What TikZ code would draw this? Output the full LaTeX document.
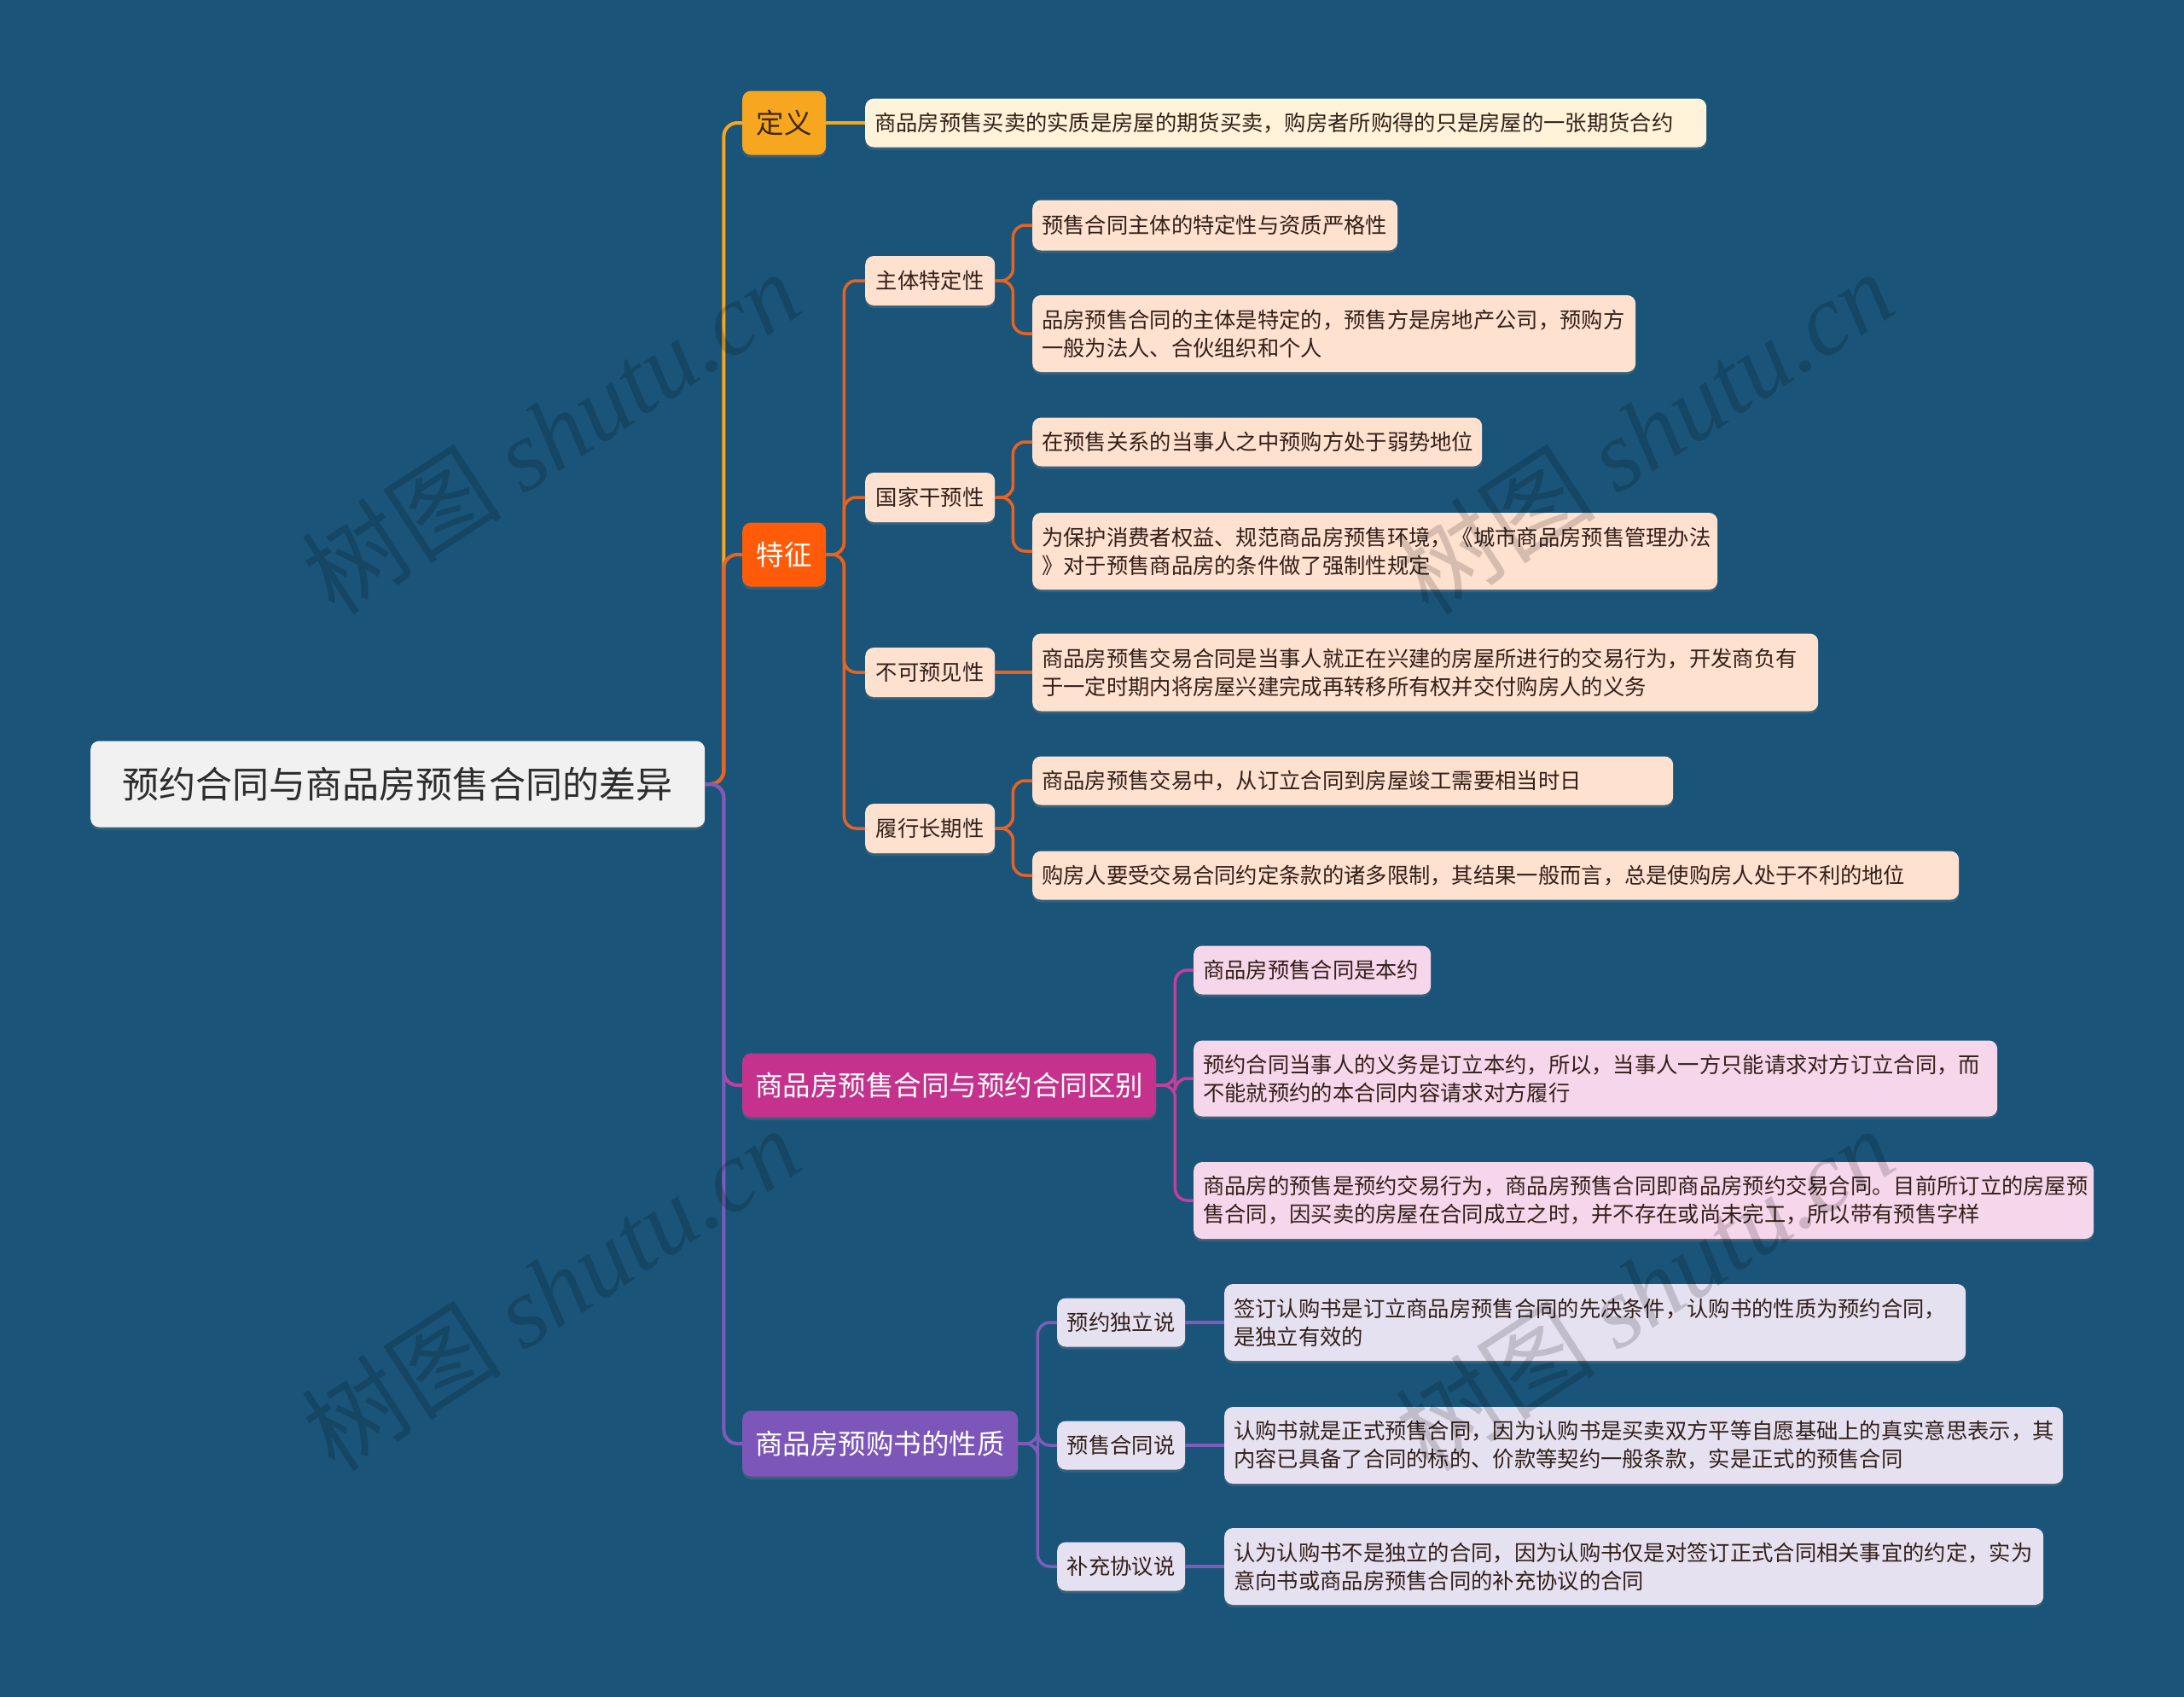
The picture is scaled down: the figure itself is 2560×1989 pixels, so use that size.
\documentclass[tikz,border=0pt]{standalone}
\usepackage{fontspec}
\setmainfont{Noto Sans CJK SC}
\newfontfamily\wmlatin{Liberation Serif}
\usetikzlibrary{shadows}
\definecolor{bg}{RGB}{26,85,121}
\definecolor{rootfill}{RGB}{241,241,241}
\definecolor{roottext}{RGB}{45,45,45}
\definecolor{cA}{RGB}{247,166,32}
\definecolor{cAl}{RGB}{255,243,217}
\definecolor{cAt}{RGB}{60,40,5}
\definecolor{cB}{RGB}{255,91,8}
\definecolor{cBline}{RGB}{234,98,32}
\definecolor{cBl}{RGB}{255,225,208}
\definecolor{cC}{RGB}{196,50,142}
\definecolor{cCline}{RGB}{196,62,158}
\definecolor{cCl}{RGB}{246,214,234}
\definecolor{cD}{RGB}{124,86,184}
\definecolor{cDline}{RGB}{126,92,186}
\definecolor{cDl}{RGB}{230,225,241}
\definecolor{txt}{RGB}{50,32,25}
\tikzset{
  basebox/.style={rounded corners=10pt, anchor=west, inner ysep=0pt,
    drop shadow={opacity=0.3, shadow xshift=0pt, shadow yshift=-3pt}},
  rootbox/.style={basebox, fill=rootfill, text=roottext, inner xsep=0pt, align=center,
    font=\fontsize{43pt}{50pt}\selectfont},
  mainbox/.style={basebox, inner xsep=0pt, align=center, text=white,
    font=\fontsize{32.5pt}{38pt}\selectfont},
  leafbox/.style={basebox, inner xsep=11pt, align=left, text=txt,
    font=\fontsize{25.3pt}{33pt}\selectfont},
  subbox/.style={basebox, inner xsep=0pt, align=center, text=txt,
    font=\fontsize{25.3pt}{33pt}\selectfont},
  conn/.style={line width=4pt, rounded corners=16pt},
  sconn/.style={line width=3.5pt, rounded corners=14pt},
  wm/.style={rotate=33, inner sep=0pt, text=black, text opacity=0.16, font=\fontsize{118pt}{120pt}\selectfont}
}
\begin{document}
\begin{tikzpicture}[x=1pt,y=-1pt]
\useasboundingbox (0,0) rectangle (2560,1989);
\fill[bg] (0,0) rectangle (2560,1989);

% root
\node[rootbox, minimum height=101pt, text width=720pt] (root) at (106,919) {预约合同与商品房预售合同的差异};

% main branches
\node[mainbox, fill=cA, text=cAt, minimum height=75pt, text width=98pt] (b1) at (870,144) {定义};
\node[mainbox, fill=cB, minimum height=75pt, text width=98pt] (b2) at (870,650) {特征};
\node[mainbox, fill=cC, minimum height=75pt, text width=485pt] (b3) at (870,1272) {商品房预售合同与预约合同区别};
\node[mainbox, fill=cD, minimum height=77pt, text width=323pt] (b4) at (870,1692) {商品房预购书的性质};

% 定义 leaf
\node[leafbox, fill=cAl, minimum height=57pt, text width=964pt] (l0) at (1014,144) {商品房预售买卖的实质是房屋的期货买卖，购房者所购得的只是房屋的一张期货合约};

% 特征 subs
\node[subbox, fill=cBl, minimum height=58pt, text width=152pt] (s1) at (1014,329) {主体特定性};
\node[subbox, fill=cBl, minimum height=58pt, text width=152pt] (s2) at (1014,583) {国家干预性};
\node[subbox, fill=cBl, minimum height=58pt, text width=152pt] (s3) at (1014,788) {不可预见性};
\node[subbox, fill=cBl, minimum height=58pt, text width=152pt] (s4) at (1014,971) {履行长期性};

% 特征 leaves
\node[leafbox, fill=cBl, minimum height=59pt, text width=406pt] (l11) at (1210,264) {预售合同主体的特定性与资质严格性};
\node[leafbox, fill=cBl, minimum height=90pt, text width=685pt] (l12) at (1210,391) {品房预售合同的主体是特定的，预售方是房地产公司，预购方\\一般为法人、合伙组织和个人};
\node[leafbox, fill=cBl, minimum height=57pt, text width=505pt] (l21) at (1210,518) {在预售关系的当事人之中预购方处于弱势地位};
\node[leafbox, fill=cBl, minimum height=90pt, text width=781pt] (l22) at (1210,646) {为保护消费者权益、规范商品房预售环境，《城市商品房预售管理办法\\》对于预售商品房的条件做了强制性规定};
\node[leafbox, fill=cBl, minimum height=91pt, text width=899pt] (l31) at (1210,788) {商品房预售交易合同是当事人就正在兴建的房屋所进行的交易行为，开发商负有\\于一定时期内将房屋兴建完成再转移所有权并交付购房人的义务};
\node[leafbox, fill=cBl, minimum height=57pt, text width=729pt] (l41) at (1210,915) {商品房预售交易中，从订立合同到房屋竣工需要相当时日};
\node[leafbox, fill=cBl, minimum height=57pt, text width=1064pt] (l42) at (1210,1026) {购房人要受交易合同约定条款的诸多限制，其结果一般而言，总是使购房人处于不利的地位};

% 区别 leaves
\node[leafbox, fill=cCl, minimum height=57pt, text width=256pt] (m1) at (1399,1137) {商品房预售合同是本约};
\node[leafbox, fill=cCl, minimum height=89pt, text width=920pt] (m2) at (1399,1264) {预约合同当事人的义务是订立本约，所以，当事人一方只能请求对方订立合同，而\\不能就预约的本合同内容请求对方履行};
\node[leafbox, fill=cCl, minimum height=90pt, text width=1033pt] (m3) at (1399,1407) {商品房的预售是预约交易行为，商品房预售合同即商品房预约交易合同。目前所订立的房屋预\\售合同，因买卖的房屋在合同成立之时，并不存在或尚未完工，所以带有预售字样};

% 性质 subs
\node[subbox, fill=cDl, minimum height=57pt, text width=150pt] (n1) at (1239,1550) {预约独立说};
\node[subbox, fill=cDl, minimum height=57pt, text width=150pt] (n2) at (1239,1694) {预售合同说};
\node[subbox, fill=cDl, minimum height=57pt, text width=150pt] (n3) at (1239,1836) {补充协议说};

% 性质 leaves
\node[leafbox, fill=cDl, minimum height=90pt, text width=847pt] (p1) at (1435,1550) {签订认购书是订立商品房预售合同的先决条件，认购书的性质为预约合同，\\是独立有效的};
\node[leafbox, fill=cDl, minimum height=90pt, text width=961pt] (p2) at (1435,1694) {认购书就是正式预售合同，因为认购书是买卖双方平等自愿基础上的真实意思表示，其\\内容已具备了合同的标的、价款等契约一般条款，实是正式的预售合同};
\node[leafbox, fill=cDl, minimum height=90pt, text width=938pt] (p3) at (1435,1836) {认为认购书不是独立的合同，因为认购书仅是对签订正式合同相关事宜的约定，实为\\意向书或商品房预售合同的补充协议的合同};

% connectors: root to main branches
\draw[conn, cA] (root.east) -- ++(22,0) |- (b1.west);
\draw[conn, cBline] (root.east) -- ++(22,0) |- (b2.west);
\draw[conn, cCline] (root.east) -- ++(22,0) |- (b3.west);
\draw[conn, cDline] (root.east) -- ++(22,0) |- (b4.west);

% 定义
\draw[sconn, cA] (b1.east) -- (l0.west);

% 特征
\foreach \s in {s1,s2,s3,s4}{\draw[sconn, cBline] (b2.east) -- ++(21,0) |- (\s.west);}
\draw[sconn, cBline] (s1.east) -- ++(21,0) |- (l11.west);
\draw[sconn, cBline] (s1.east) -- ++(21,0) |- (l12.west);
\draw[sconn, cBline] (s2.east) -- ++(21,0) |- (l21.west);
\draw[sconn, cBline] (s2.east) -- ++(21,0) |- (l22.west);
\draw[sconn, cBline] (s3.east) -- (l31.west);
\draw[sconn, cBline] (s4.east) -- ++(21,0) |- (l41.west);
\draw[sconn, cBline] (s4.east) -- ++(21,0) |- (l42.west);

% 区别
\foreach \m in {m1,m2,m3}{\draw[sconn, cCline] (b3.east) -- ++(22,0) |- (\m.west);}

% 性质
\foreach \n in {n1,n2,n3}{\draw[sconn, cDline] (b4.east) -- ++(23,0) |- (\n.west);}
\draw[sconn, cDline] (n1.east) -- (p1.west);
\draw[sconn, cDline] (n2.east) -- (p2.west);
\draw[sconn, cDline] (n3.east) -- (p3.west);

% watermarks
\node[wm] (wm1) at (645,506) {树图 {\wmlatin\itshape shutu.cn}};
\node[wm] (wm2) at (1927,506) {树图 {\wmlatin\itshape shutu.cn}};
\node[wm] (wm3) at (645,1510) {树图 {\wmlatin\itshape shutu.cn}};
\node[wm] (wm4) at (1927,1510) {树图 {\wmlatin\itshape shutu.cn}};
\end{tikzpicture}
\end{document}
